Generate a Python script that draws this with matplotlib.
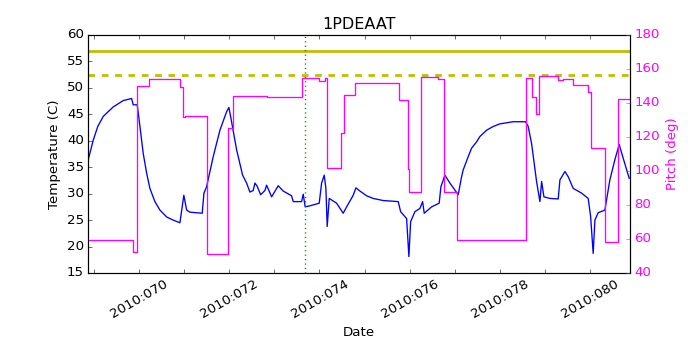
import matplotlib
matplotlib.use("Agg")
import matplotlib.pyplot as plt
from matplotlib.ticker import MultipleLocator, FuncFormatter

plt.style.use("classic")

# Temperature (left axis): day-of-year 2010 vs degrees C
temp_day = [68.868, 68.979, 69.08, 69.201, 69.423, 69.645, 69.831, 69.867, 69.956,
            70.016, 70.089, 70.164, 70.237, 70.348, 70.459, 70.608, 70.754,
            70.903, 70.99, 71.052,
            71.125, 71.398, 71.436, 71.495, 71.642, 71.791, 71.939, 71.990, 72.028,
            72.161, 72.294, 72.383, 72.456, 72.529, 72.567, 72.618, 72.694, 72.789,
            72.827, 72.938, 73.084, 73.195, 73.381, 73.417, 73.603, 73.639, 73.683,
            73.787, 73.994, 74.047, 74.105, 74.142, 74.171, 74.216, 74.380, 74.526,
            74.602, 74.748, 74.808, 74.897, 75.045, 75.192, 75.414, 75.747, 75.800,
            75.933, 75.984, 76.022, 76.117, 76.228, 76.288, 76.324, 76.488, 76.656,
            76.694, 76.783, 76.894, 77.078, 77.153, 77.189, 77.300, 77.375, 77.486,
            77.559, 77.708, 77.854, 78.003,
            78.298, 78.573, 78.631, 78.706, 78.817, 78.891, 78.929, 78.980, 79.113,
            79.297, 79.335, 79.446, 79.519, 79.630, 79.816, 79.962, 80.016, 80.073,
            80.111, 80.184, 80.333, 80.443, 80.554, 80.650, 80.739, 80.872]
temp_val = [36.4, 40.1, 42.7, 44.6, 46.4, 47.6, 48.0, 46.8, 46.8,
            42.7, 37.6, 33.9, 31.0, 28.5, 26.9, 25.6, 25.0,
            24.5, 29.7, 26.9,
            26.5, 26.3, 30.1, 31.3, 37.0, 42.0, 45.5, 46.3, 44.6,
            38.3, 33.5, 32.0, 30.3, 30.6, 32.0, 31.4, 29.8, 30.6,
            31.6, 29.4, 31.5, 30.5, 29.6, 28.5, 28.5, 29.9, 27.5,
            27.7, 28.2, 32.0, 33.5, 31.0, 23.8, 29.1, 28.2, 26.3,
            27.5, 29.7, 31.1, 30.5, 29.6, 29.1, 28.7, 28.5, 26.6,
            25.3, 18.1, 24.7, 26.6, 27.2, 28.5, 26.3, 27.5, 28.2,
            31.3, 33.5, 32.0, 29.8, 33.2, 34.5, 37.0, 38.6, 39.8,
            40.8, 42.0, 42.7, 43.2,
            43.6, 43.6, 42.7, 39.5, 32.3, 28.5, 32.3, 29.4, 29.1,
            29.0, 32.6, 34.2, 33.2, 31.0, 30.1, 29.1, 25.7, 18.7,
            25.0, 26.4, 26.9, 32.6, 36.4, 39.3, 36.7, 32.9]

# Pitch (right axis): step changes (day of change, pitch in deg)
pitch_day = [68.868, 69.867, 69.956, 70.222, 70.903, 70.976, 71.020, 71.495, 71.974,
             72.085, 72.83, 73.603, 73.994, 74.114, 74.158, 74.474, 74.543, 74.786,
             75.770, 75.958, 75.984, 76.250, 76.634, 76.767, 77.042, 78.580, 78.706,
             78.802, 78.875, 79.297, 79.394, 79.630, 79.962, 80.016, 80.333, 80.628,
             80.89]
pitch_val = [59.3, 52.2, 150.0, 154.0, 149.6, 131.6, 132.5, 51.2, 125.3,
             144.1, 143.8, 154.9, 153.0, 155.0, 101.6, 122.5, 144.6, 151.6,
             141.8, 101.0, 87.8, 155.1, 154.0, 87.8, 59.3, 154.5, 143.7,
             133.5, 155.9, 153.4, 154.0, 150.6, 146.7, 113.3, 58.0, 142.4,
             142.4]

limit_hi = 57.0
limit_lo = 52.4
event_day = 73.68

fig = plt.figure(figsize=(8.75, 4.375), dpi=80, facecolor="white")
ax1 = fig.add_axes([0.126, 0.22, 0.774, 0.68])
ax1.plot(temp_day, temp_val, "b-", lw=1.2)
ax1.axhline(limit_hi, color="y", lw=2.5)
ax1.axhline(limit_lo, color="y", lw=2.5, ls="--")
ax1.axvline(event_day, color="g", ls=":", lw=1.3)
ax1.set_ylim(15, 60)
ax1.set_xlim(68.868, 80.89)
ax1.yaxis.set_major_locator(MultipleLocator(5))
ax1.xaxis.set_major_locator(MultipleLocator(2))
ax1.xaxis.set_minor_locator(MultipleLocator(1))
ax1.xaxis.set_major_formatter(FuncFormatter(lambda v, p: "2010:%03d" % int(round(v))))
ax1.tick_params(which="minor", length=4)
ax1.tick_params(which="major", length=4)
for lbl in ax1.get_xticklabels():
    lbl.set_rotation(30)
ax1.set_xlabel("Date")
ax1.set_ylabel("Temperature (C)")
ax1.set_title("1PDEAAT")

ax2 = ax1.twinx()
ax2.plot(pitch_day, pitch_val, "-", color="magenta", lw=1.2, drawstyle="steps-post")
ax2.set_ylim(40, 180)
ax2.set_xlim(68.868, 80.89)
ax2.yaxis.set_major_locator(MultipleLocator(20))
ax2.set_ylabel("Pitch (deg)", color="magenta")
ax2.tick_params(axis="y", colors="magenta", length=4)
for t in ax2.get_yticklabels():
    t.set_color("magenta")

fig.savefig("out.png", dpi=80, facecolor="white")
